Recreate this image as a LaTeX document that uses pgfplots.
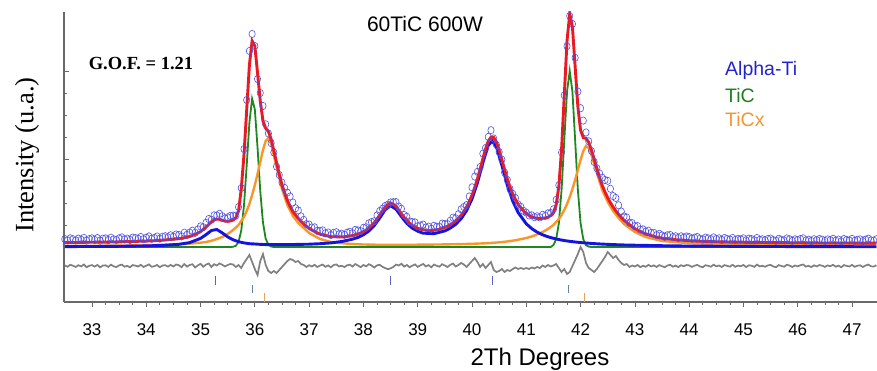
\documentclass[border=0pt]{standalone}
\usepackage{fontspec}
\setmainfont{Liberation Sans}
\newfontfamily\timesf{Liberation Serif}
\usepackage{pgfplots}
\usepackage{pgfplotstable}
\pgfplotsset{compat=1.18}
\definecolor{axisC}{RGB}{105,105,105}
\definecolor{dataC}{RGB}{80,80,225}
\definecolor{redC}{RGB}{235,25,35}
\definecolor{blueC}{RGB}{20,20,225}
\definecolor{greenC}{RGB}{30,135,30}
\definecolor{orangeC}{RGB}{250,150,40}
\definecolor{grayC}{RGB}{128,128,128}
\definecolor{tickA}{RGB}{90,100,190}
\definecolor{tickB}{RGB}{100,130,160}
\definecolor{tickC}{RGB}{230,160,90}
\definecolor{txtBlue}{RGB}{35,35,205}
\definecolor{txtGreen}{RGB}{30,125,30}
\definecolor{txtOrange}{RGB}{240,150,50}

\pgfplotstableread{
x obs calc dif
32.50 7.9 4.4 -18.5
32.55 6.6 4.4 -19.8
32.60 8.7 4.5 -17.8
32.65 7.8 4.5 -18.7
32.70 6.5 4.5 -20.0
32.75 8.4 4.6 -18.2
32.80 7.2 4.6 -19.4
32.85 9.1 4.6 -17.5
32.90 6.5 4.7 -20.2
32.95 7.9 4.7 -18.8
33.00 8.6 4.7 -18.1
33.05 7.1 4.7 -19.6
33.10 8.9 4.8 -17.9
33.15 6.4 4.8 -20.4
33.20 8.3 4.9 -18.6
33.25 8.6 4.9 -18.3
33.30 7.0 4.9 -19.9
33.35 9.3 5.0 -17.7
33.40 7.7 5.0 -19.3
33.45 7.0 5.1 -20.1
33.50 8.7 5.1 -18.4
33.55 9.6 5.2 -17.6
33.60 7.6 5.3 -19.7
33.65 8.4 5.3 -18.9
33.70 7.1 5.4 -20.3
33.75 9.4 5.5 -18.1
33.80 9.0 5.6 -18.6
33.85 8.2 5.7 -19.5
33.90 10.0 5.8 -17.8
33.95 7.8 5.8 -20.0
34.00 9.2 5.9 -18.7
34.05 10.6 6.0 -17.4
34.10 8.3 6.1 -19.8
34.15 9.1 6.3 -19.2
34.20 10.5 6.5 -18.0
34.25 8.4 6.6 -20.2
34.30 10.3 6.8 -18.5
34.35 10.8 7.0 -18.2
34.40 9.7 7.3 -19.6
34.45 11.7 7.6 -17.9
34.50 10.3 7.8 -19.5
34.55 12.5 8.0 -17.5
34.60 12.1 8.3 -18.2
34.65 10.6 8.8 -20.2
34.70 14.3 9.3 -17.0
34.75 12.2 9.8 -19.6
34.80 14.4 10.4 -18.0
34.85 16.3 11.5 -17.2
34.90 14.2 12.7 -20.5
34.95 17.6 14.0 -18.4
35.00 20.6 15.4 -16.8
35.05 19.8 17.6 -19.8
35.10 24.2 19.8 -17.6
35.15 28.0 22.5 -16.5
35.20 27.2 25.2 -20.0
35.25 31.7 26.9 -17.2
35.30 31.5 28.0 -18.5
35.35 33.2 27.6 -16.4
35.40 30.8 26.6 -17.8
35.45 28.5 26.0 -19.5
35.50 29.6 25.6 -18
35.55 31.1 26.1 -17
35.60 31.4 26.9 -17.5
35.65 31.3 29.3 -20
35.70 40 36 -18
35.75 59 58 -21
35.80 98 92 -16
35.85 147 137 -12
35.90 196 182 -8
35.95 213 206 -15
36.00 201 201 -22
36.05 168 174 -28
36.10 154 146 -14
36.15 141 126 -7
36.20 122.7 118.7 -18
36.25 113.5 115.5 -24
36.30 103.9 107.9 -26
36.35 94.5 96.5 -24
36.40 80.4 84.4 -26
36.45 72 73 -23
36.50 64.4 62.4 -20
36.55 59 54 -17
36.60 54.4 46.4 -14
36.65 50.5 40.5 -12
36.70 44.5 35.5 -13
36.75 38.8 31.8 -15
36.80 36.6 28.6 -14
36.85 30.7 25.7 -17
36.90 27.1 23.1 -18
36.95 22.8 20.8 -20
37.00 22.4 18.6 -18.2
37.05 19.5 17.0 -19.5
37.10 19.7 15.5 -17.8
37.15 16.1 14.1 -20.0
37.20 16.2 12.8 -18.6
37.25 16.6 12.1 -17.5
37.30 13.7 11.5 -19.8
37.35 14.5 10.9 -18.4
37.40 12.0 10.3 -20.3
37.45 14.1 10.2 -18.1
37.50 14.8 10.2 -17.4
37.55 12.7 10.1 -19.4
37.60 13.3 10.1 -18.8
37.65 12.2 10.3 -20.1
37.70 14.3 10.6 -18.3
37.75 15.2 10.9 -17.7
37.80 13.7 11.3 -19.6
37.85 17.1 12.1 -17.0
37.90 16.5 13.0 -18.5
37.95 15.8 14.0 -20.2
38.00 19.2 15.2 -18.0
38.05 19.7 17.0 -19.3
38.10 23.7 18.9 -17.2
38.15 24.9 21.5 -18.6
38.20 25.8 24.3 -20.5
38.25 31.6 28.0 -18.4
38.30 36.0 31.8 -17.8
38.35 38.2 36.0 -19.8
38.40 40.9 39.9 -21.0
38.45 42.3 42.5 -22.2
38.50 44.6 44.0 -21.4
38.55 44.8 42.8 -20.0
38.60 44.9 40.5 -17.6
38.65 40.5 37.0 -18.5
38.70 38.3 33.1 -16.8
38.75 32.0 29.6 -19.6
38.80 30.3 26.3 -18.0
38.85 25.6 23.8 -20.2
38.90 24.9 21.6 -18.7
38.95 24.6 20.0 -17.4
39.00 20.7 18.6 -19.9
39.05 21.6 17.9 -18.3
39.10 22.4 17.3 -16.9
39.15 19.4 16.8 -19.4
39.20 20.4 16.5 -18.1
39.25 18.2 16.5 -20.3
39.30 21.2 16.7 -17.5
39.35 20.3 17.1 -18.8
39.40 20.0 17.7 -19.7
39.45 23.4 18.6 -17.2
39.50 23.1 19.7 -18.6
39.55 22.8 20.8 -20.0
39.60 26.3 22.1 -17.8
39.65 29.4 24.0 -16.6
39.70 28.7 26.2 -19.5
39.75 32.8 28.8 -18.0
39.80 37.7 31.7 -16.0
39.85 40.0 35.5 -17.5
39.90 41.9 39.9 -20.0
39.95 50.5 45.5 -17.0
40.00 59.7 51.7 -14
40.05 70.5 59.5 -11
40.10 75.1 68.1 -15
40.15 80 78 -20
40.20 93.3 88.3 -17
40.25 99 98 -21
40.30 110 106 -18
40.35 116.8 109.8 -15
40.40 108.5 109.5 -23
40.45 102 105 -25
40.50 95 97 -24
40.55 87.4 87.4 -22
40.60 74.5 77.5 -25
40.65 67.1 68.1 -23
40.70 58 60 -24
40.75 53.1 53.1 -22
40.80 49 47.5 -20.5
40.85 42.6 42.6 -22
40.90 40.2 39.2 -21
40.95 36.1 36.1 -22
41.00 34.4 33.4 -21
41.05 31.6 31.6 -22
41.10 31.7 30.2 -20.5
41.15 29.8 29.3 -21.5
41.20 30.7 28.7 -20
41.25 29.6 28.6 -21
41.30 32.2 28.7 -18.5
41.35 31.1 29.1 -20
41.40 33.7 29.7 -18
41.45 34.0 31.5 -19.5
41.50 37.7 34.2 -18.5
41.55 47.2 42.2 -17
41.60 61.8 60.8 -21
41.65 94.6 97.6 -25
41.70 151.7 151.7 -22
41.75 200.9 205.9 -27
41.80 231 233.2 -25
41.85 223 220.1 -19
41.90 189.2 180.2 -13
41.95 155.4 140.4 -7
42.00 138.8 116.8 0
42.05 126.4 109.4 -5
42.10 114.5 108.5 -16
42.15 105.7 104.7 -21
42.20 96 97 -23
42.25 85 88 -25
42.30 78.7 78.7 -22
42.35 73.5 69.5 -18
42.40 69.4 61.4 -14
42.45 67 55 -10
42.50 66.2 49.2 -5
42.55 58.2 44.2 -8
42.60 50.9 39.9 -11
42.65 49.1 36.1 -9
42.70 41.7 32.7 -13
42.75 35.5 29.5 -16
42.80 30.6 26.6 -18
42.85 29.5 24.5 -17
42.90 24.3 22.3 -20
42.95 23.8 20.3 -18.5
43.00 20.8 18.3 -19.5
43.05 20.9 16.9 -18.0
43.10 17.4 15.6 -20.2
43.15 17.6 14.3 -18.7
43.20 15.3 13.1 -19.8
43.25 16.3 12.2 -17.9
43.30 14.0 11.4 -19.4
43.35 14.2 10.6 -18.4
43.40 11.9 9.9 -20.0
43.45 13.2 9.3 -18.1
43.50 11.6 8.8 -19.2
43.55 10.2 8.5 -20.3
43.60 11.7 8.2 -18.5
43.65 12.1 7.9 -17.8
43.70 9.9 7.6 -19.7
43.75 10.7 7.3 -18.6
43.80 9.0 7.1 -20.1
43.85 10.7 6.9 -18.2
43.90 9.4 6.7 -19.3
43.95 10.5 6.5 -18.0
44.00 9.9 6.3 -18.4
44.05 8.3 6.2 -19.9
44.10 9.3 6.0 -18.7
44.15 10.0 5.9 -17.9
44.20 8.3 5.8 -19.5
44.25 7.5 5.7 -20.2
44.30 9.4 5.6 -18.2
44.35 8.7 5.5 -18.8
44.40 7.7 5.4 -19.7
44.45 9.6 5.3 -17.7
44.50 7.9 5.2 -19.3
44.55 8.7 5.2 -18.5
44.60 7.1 5.1 -20.0
44.65 9.0 5.1 -18.1
44.70 8.1 5.0 -18.9
44.75 7.4 5.0 -19.6
44.80 9.1 4.9 -17.8
44.85 7.1 4.9 -19.8
44.90 8.2 4.8 -18.6
44.95 7.6 4.8 -19.2
45.00 8.7 4.7 -18.0
45.05 6.6 4.7 -20.1
45.10 8.3 4.6 -18.3
45.15 7.9 4.6 -18.7
45.20 6.7 4.6 -19.9
45.25 9.0 4.6 -17.6
45.30 7.1 4.5 -19.4
45.35 7.7 4.5 -18.8
45.40 6.7 4.5 -19.8
45.45 8.0 4.4 -18.4
45.50 8.5 4.4 -17.9
45.55 6.9 4.4 -19.5
45.60 6.2 4.4 -20.2
45.65 8.2 4.3 -18.1
45.70 7.3 4.3 -19.0
45.75 6.6 4.3 -19.7
45.80 8.6 4.3 -17.7
45.85 7.7 4.3 -18.6
45.90 6.2 4.2 -20.0
45.95 7.7 4.2 -18.5
46.00 6.9 4.2 -19.3
46.05 8.0 4.2 -18.2
46.10 8.7 4.2 -17.5
46.15 6.5 4.1 -19.6
46.20 7.3 4.1 -18.8
46.25 6.0 4.1 -20.1
46.30 7.8 4.1 -18.3
46.35 6.7 4.1 -19.4
46.40 8.0 4.0 -18.0
46.45 7.3 4.0 -18.7
46.50 6.1 4.0 -19.9
46.55 7.6 4.0 -18.4
46.60 6.8 4.0 -19.2
46.65 8.2 4.0 -17.8
46.70 6.3 4.0 -19.7
46.75 7.4 4.0 -18.6
46.80 5.7 4.0 -20.3
46.85 7.9 4.0 -18.1
46.90 7.1 4.0 -18.9
46.95 6.5 4.0 -19.5
47.00 8.1 4.0 -17.9
47.05 6.2 3.9 -19.8
47.10 7.2 3.9 -18.7
47.15 7.6 3.9 -18.3
47.20 5.9 3.9 -20.0
47.25 7.4 3.9 -18.5
47.30 8.3 3.9 -17.6
47.35 6.6 3.9 -19.3
47.40 6.3 3.9 -19.6
47.45 7.7 3.9 -18.2
}\obsdata

\pgfplotstableread{
x y
32.5 0.4
33.0 0.5
33.5 0.7
34.0 1.1
34.3 1.6
34.6 2.7
34.8 4.4
35.0 8.6
35.1 12.3
35.2 16.5
35.3 17.5
35.4 14.1
35.5 10.1
35.6 7.2
35.7 5.3
35.8 4.1
35.9 3.3
36.0 3.0
36.1 2.65
36.2 2.4
36.4 2.4
36.6 2.4
36.8 2.6
37.0 2.8
37.2 3.3
37.4 4.1
37.6 5.5
37.8 7.8
37.9 9.6
38.0 12.2
38.1 16.0
38.2 21.5
38.3 29.0
38.4 37.2
38.5 41.3
38.6 37.8
38.7 30.4
38.8 23.6
38.9 18.8
39.0 15.8
39.1 13.8
39.2 13.6
39.3 13.3
39.4 14.7
39.5 16.1
39.6 18.9
39.7 22.7
39.8 28.3
39.9 36.4
40.0 48.0
40.1 64.2
40.2 84.2
40.3 101.6
40.37 106
40.45 100.1
40.55 81.7
40.65 61.8
40.75 45.9
40.85 34.4
41.0 23.2
41.1 18.4
41.2 14.8
41.3 12.2
41.4 10.2
41.5 8.7
41.6 7.45
41.7 6.45
41.8 5.65
41.9 5.0
42.0 4.45
42.2 3.55
42.4 2.9
42.6 2.4
42.8 2.05
43.0 1.8
43.5 1.3
44.0 0.95
45.0 0.6
46.0 0.4
47.0 0.3
47.45 0.25
}\bluedata

\pgfplotstableread{
x y
32.5 0
35.55 0
35.6 0.2
35.65 1.2
35.7 5.1
35.75 16.4
35.8 41.4
35.85 81.4
35.9 124.4
35.95 148.3
36.0 137.5
36.05 99.4
36.1 55.9
36.15 24.4
36.2 8.3
36.25 2.2
36.3 0.5
36.35 0
41.45 0
41.5 1.95
41.55 7.7
41.6 23.8
41.65 57.2
41.7 106.7
41.75 155.3
41.8 176
41.85 155.3
41.9 106.7
41.95 57.2
42.0 23.8
42.05 7.7
42.1 1.95
42.15 0.4
42.2 0
47.45 0
}\greendata

\pgfplotstableread{
x y
32.5 1.0
33.0 1.2
33.5 1.4
34.0 1.8
34.3 2.2
34.6 2.8
34.8 3.4
35.0 4.3
35.1 5.0
35.2 6.2
35.3 8.0
35.4 10
35.5 13
35.6 17
35.65 19.5
35.7 22
35.75 26
35.8 30
35.85 36
35.9 43
35.95 52
36.0 62
36.05 73
36.1 85
36.15 97
36.2 106
36.25 109
36.3 103
36.4 80
36.5 58
36.6 42
36.7 31
36.8 24
37.0 14
37.2 8
37.4 5
37.6 3.8
37.8 3.0
38.0 2.5
38.2 2.3
38.5 2.2
38.8 2.2
39.0 2.3
39.4 2.5
39.8 2.9
40.0 3.2
40.2 3.6
40.4 4.2
40.6 5.2
40.8 6.7
41.0 9.0
41.1 10.5
41.2 12.5
41.3 15
41.4 18
41.5 22
41.55 25
41.6 28
41.65 32
41.7 37
41.75 43
41.8 50
41.85 58
41.9 67
41.95 77
42.0 87
42.05 96
42.1 101
42.15 99
42.2 92
42.3 74
42.4 57
42.5 45
42.6 36
42.7 29
42.8 23
43.0 15
43.2 10
43.5 6
44.0 3.8
44.5 3.0
45.0 2.6
45.5 2.4
46.0 2.3
46.5 2.2
47.45 2.2
}\orangedata

\begin{document}
\begin{tikzpicture}
\begin{axis}[
  name=ax,
  scale only axis,
  width=813pt, height=290pt,
  xmin=32.485, xmax=47.46,
  ymin=-55, ymax=235,
  axis lines=left,
  axis line style={-, draw=axisC, line width=1.1pt},
  xtick={33,34,...,47},
  minor x tick num=3,
  ytick={0,88,176},
  minor y tick num=3,
  yticklabels={},
  xtick align=outside,
  ytick align=inside,
  major tick length=5pt,
  minor tick length=3pt,
  every tick/.style={axisC, line width=0.7pt},
  /pgf/number format/assume math mode=true,
  xticklabel style={font=\fontsize{17}{17}\selectfont, anchor=center, yshift=-23pt},
]
\addplot[grayC, line width=1.7pt] table[x=x, y=dif] {\obsdata};
\addplot[only marks, mark=|, mark size=4.3pt, tickA, mark options={line width=0.8pt}] coordinates {(35.27,-33.5) (38.5,-33.5) (40.37,-33.5)};
\addplot[only marks, mark=|, mark size=4.3pt, tickB, mark options={line width=0.8pt}] coordinates {(35.96,-42) (41.78,-42)};
\addplot[only marks, mark=|, mark size=4.3pt, tickC, mark options={line width=0.8pt}] coordinates {(36.18,-50.5) (42.07,-50.5)};
\addplot[only marks, mark=o, mark size=3.7pt, mark options={draw=dataC, line width=0.6pt, xscale=0.85}] table[x=x, y=obs] {\obsdata};
\addplot[greenC, line width=1.8pt] table {\greendata};
\addplot[orangeC, line width=2.4pt] table {\orangedata};
\addplot[blueC, line width=2.9pt] table {\bluedata};
\addplot[redC, line width=2.9pt] table[x=x, y=calc] {\obsdata};
\end{axis}
\node[rotate=90, inner sep=0pt, font=\timesf\fontsize{26.5}{26.5}\selectfont] at ([xshift=-37pt, yshift=147pt]ax.south west) {Intensity (u.a.)};
\node[inner sep=0pt, font=\fontsize{21}{21}\selectfont] at ([xshift=361pt, yshift=277.5pt]ax.south west) {60TiC 600W};
\node[inner sep=0pt, font=\timesf\bfseries\fontsize{18.5}{18.5}\selectfont] at ([xshift=77pt, yshift=238.5pt]ax.south west) {G.O.F. = 1.21};
\node[inner sep=0pt, anchor=west, text=txtBlue, font=\fontsize{19.5}{19.5}\selectfont] at ([xshift=661pt, yshift=232pt]ax.south west) {Alpha-Ti};
\node[inner sep=0pt, anchor=west, text=txtGreen, font=\fontsize{19.5}{19.5}\selectfont] at ([xshift=661pt, yshift=206.5pt]ax.south west) {TiC};
\node[inner sep=0pt, anchor=west, text=txtOrange, font=\fontsize{19.5}{19.5}\selectfont] at ([xshift=661pt, yshift=182pt]ax.south west) {TiCx};
\node[inner sep=0pt, font=\fontsize{24}{24}\selectfont] at ([xshift=476pt, yshift=-57pt]ax.south west) {2Th Degrees};
\pgfresetboundingbox
\path ([xshift=-64pt, yshift=-69pt]ax.south west) rectangle ([xshift=813pt, yshift=302pt]ax.south west);
\end{tikzpicture}
\end{document}
